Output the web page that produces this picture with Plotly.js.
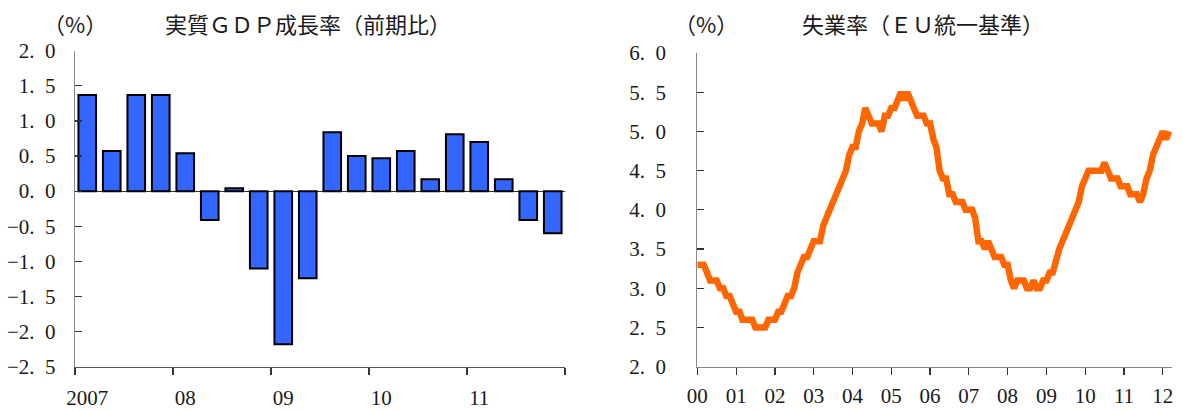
<!DOCTYPE html>
<html><head><meta charset="utf-8">
<script src="https://cdn.plot.ly/plotly-3.0.1.min.js"></script>
<style>html,body{margin:0;padding:0;background:#fff;} #chart{width:1183px;height:410px;}</style>
</head><body><div id="chart"></div>
<script>
// ---- Data: real GDP growth (q/q, %) ----
const gdpQuarters = ['2007Q1','2007Q2','2007Q3','2007Q4','2008Q1','2008Q2','2008Q3','2008Q4',
  '2009Q1','2009Q2','2009Q3','2009Q4','2010Q1','2010Q2','2010Q3','2010Q4',
  '2011Q1','2011Q2','2011Q3','2011Q4'];
const gdpGrowth = [1.37,0.57,1.37,1.37,0.54,-0.41,0.04,-1.10,-2.18,-1.24,0.84,0.50,0.47,0.57,0.17,0.81,0.70,0.17,-0.41,-0.60];
const gdpYearLabels = ['2007','08','09','10','11'];
const gdpYearLabelPos = [0,4,8,12,16];
const gdpYearBoundaries = [-0.5,3.5,7.5,11.5,15.5,19.5];
const gdpTickVals = [2,1.5,1,0.5,0,-0.5,-1,-1.5,-2,-2.5];
const gdpTickText = ['2.\u20020','1.\u20025','1.\u20020','0.\u20025','0.\u20020','\u22120.\u20025','\u22121.\u20020','\u22121.\u20025','\u22122.\u20020','\u22122.\u20025'];

// ---- Data: unemployment rate (EU harmonised, %), monthly from Jan 2000 ----
const unempStartYear = 2000;
const unemployment = [
  3.3,3.3,3.3,3.2,3.1,3.1,3.1,3.0,3.0,2.9,2.9,2.8,   // 2000
  2.7,2.7,2.6,2.6,2.6,2.6,2.5,2.5,2.5,2.5,2.6,2.6,   // 2001
  2.6,2.7,2.7,2.8,2.9,2.9,3.0,3.2,3.3,3.4,3.4,3.5,   // 2002
  3.6,3.6,3.6,3.8,3.9,4.0,4.1,4.2,4.3,4.4,4.5,4.7,   // 2003
  4.8,4.8,5.0,5.1,5.3,5.2,5.1,5.1,5.1,5.0,5.2,5.2,   // 2004
  5.3,5.3,5.4,5.5,5.4,5.5,5.4,5.3,5.2,5.2,5.2,5.1,   // 2005
  5.1,4.9,4.8,4.5,4.4,4.4,4.2,4.2,4.1,4.1,4.1,4.0,   // 2006
  4.0,4.0,3.9,3.6,3.6,3.5,3.6,3.5,3.4,3.4,3.4,3.3,   // 2007
  3.3,3.1,3.0,3.1,3.1,3.1,3.0,3.0,3.1,3.0,3.0,3.1,   // 2008
  3.1,3.2,3.2,3.4,3.5,3.6,3.7,3.8,3.9,4.0,4.1,4.3,   // 2009
  4.4,4.5,4.5,4.5,4.5,4.5,4.6,4.5,4.4,4.4,4.4,4.3,   // 2010
  4.3,4.3,4.2,4.2,4.2,4.1,4.2,4.4,4.5,4.7,4.8,4.9,   // 2011
  5.0,4.9,5.0                                        // 2012
];
const unempYearLabels = ['00','01','02','03','04','05','06','07','08','09','10','11','12'];
const unempTickVals = [6,5.5,5,4.5,4,3.5,3,2.5,2];
const unempTickText = ['6.\u20020','5.\u20025','5.\u20020','4.\u20025','4.\u20020','3.\u20025','3.\u20020','2.\u20025','2.\u20020'];

// build month dates
const unempDates = unemployment.map((_, i) => {
  const y = unempStartYear + Math.floor(i / 12);
  const m = (i % 12) + 1;
  return y + '-' + String(m).padStart(2, '0') + '-01';
});
const unempYearTicks = unempYearLabels.map((_, i) => (unempStartYear + i) + '-01-01');

const W = 1183, H = 410;
const px = v => v / W, py = v => 1 - v / H;

const numFont = {family: 'Liberation Serif, Times New Roman, serif', size: 21, color: '#1a1a1a'};
const xNumFont = {family: 'Liberation Serif, Times New Roman, serif', size: 21, color: '#1a1a1a'};
const jpFont = {family: 'Noto Sans CJK JP, sans-serif', size: 22, color: '#1a1a1a'};

const traces = [
  {
    type: 'bar', x: gdpQuarters.map((_, i) => i), y: gdpGrowth,
    xaxis: 'x', yaxis: 'y', width: 0.72,
    marker: {color: '#3366FF', line: {color: '#000', width: 2}},
    hoverinfo: 'skip'
  },
  {
    // carrier trace for the year-label axis (draws nothing)
    type: 'scatter', mode: 'none', x: gdpQuarters.map((_, i) => i), y: gdpGrowth,
    xaxis: 'x3', yaxis: 'y', hoverinfo: 'skip', showlegend: false
  },
  {
    type: 'scatter', mode: 'lines', x: unempDates, y: unemployment,
    xaxis: 'x2', yaxis: 'y2',
    line: {color: '#FF6600', width: 6.5, shape: 'linear'},
    hoverinfo: 'skip'
  }
];

const layout = {
  width: W, height: H,
  margin: {l: 0, r: 0, t: 0, b: 0},
  paper_bgcolor: '#fff', plot_bgcolor: 'rgba(0,0,0,0)',
  showlegend: false,
  xaxis: {
    domain: [px(75), px(565)], range: [-0.5, 19.5], anchor: 'y',
    tickmode: 'array', tickvals: gdpYearBoundaries, showticklabels: false,
    ticks: 'outside', ticklen: 7, tickcolor: '#333', tickwidth: 1.2,
    showline: true, linecolor: '#555', linewidth: 1.2,
    showgrid: false, zeroline: false, fixedrange: true, automargin: false
  },
  xaxis3: {
    overlaying: 'x', anchor: 'y', side: 'bottom', range: [-0.5, 19.5],
    tickmode: 'array', tickvals: gdpYearLabelPos, ticktext: gdpYearLabels,
    ticks: '', showline: false, showgrid: false, zeroline: false,
    tickfont: xNumFont, ticklabelstandoff: 16, automargin: false
  },
  yaxis: {
    domain: [py(366.7), py(50.7)], range: [-2.5, 2.0], anchor: 'x',
    tickmode: 'array', tickvals: gdpTickVals, ticktext: gdpTickText,
    ticks: 'inside', ticklen: 7, tickcolor: '#333', tickwidth: 1.2,
    showline: true, linecolor: '#888', linewidth: 1.2,
    showgrid: false, zeroline: true, zerolinecolor: '#333', zerolinewidth: 1.2,
    tickfont: numFont, ticklabelstandoff: 14, automargin: false
  },
  xaxis2: {
    domain: [px(697.3), px(1172)], type: 'date', anchor: 'y2',
    range: ['2000-01-01', '2012-03-28'],
    tickmode: 'array', tickvals: unempYearTicks, ticktext: unempYearLabels,
    ticks: 'outside', ticklen: 7, tickcolor: '#333', tickwidth: 1.2,
    showline: true, linecolor: '#888', linewidth: 1.2,
    showgrid: false, zeroline: false, tickfont: xNumFont, ticklabelstandoff: 3,
    automargin: false
  },
  yaxis2: {
    domain: [py(366.7), py(53)], range: [2, 6], anchor: 'x2',
    tickmode: 'array', tickvals: unempTickVals, ticktext: unempTickText,
    ticks: 'inside', ticklen: 7, tickcolor: '#333', tickwidth: 1.2,
    showline: true, linecolor: '#888', linewidth: 1.2,
    showgrid: false, zeroline: false,
    tickfont: numFont, ticklabelstandoff: 26, automargin: false
  },
  annotations: [
    {xref: 'paper', yref: 'paper', x: px(74.5), y: py(23), text: '（%）', showarrow: false, font: jpFont, xanchor: 'center', yanchor: 'middle'},
    {xref: 'paper', yref: 'paper', x: px(307.5), y: py(23), text: '実質ＧＤＰ成長率（前期比）', showarrow: false, font: jpFont, xanchor: 'center', yanchor: 'middle'},
    {xref: 'paper', yref: 'paper', x: px(706), y: py(23), text: '（%）', showarrow: false, font: jpFont, xanchor: 'center', yanchor: 'middle'},
    {xref: 'paper', yref: 'paper', x: px(923), y: py(23), text: '失業率（ＥＵ統一基準）', showarrow: false, font: jpFont, xanchor: 'center', yanchor: 'middle'}
  ]
};

Plotly.newPlot('chart', traces, layout, {staticPlot: true, displayModeBar: false});
</script>
</body></html>
